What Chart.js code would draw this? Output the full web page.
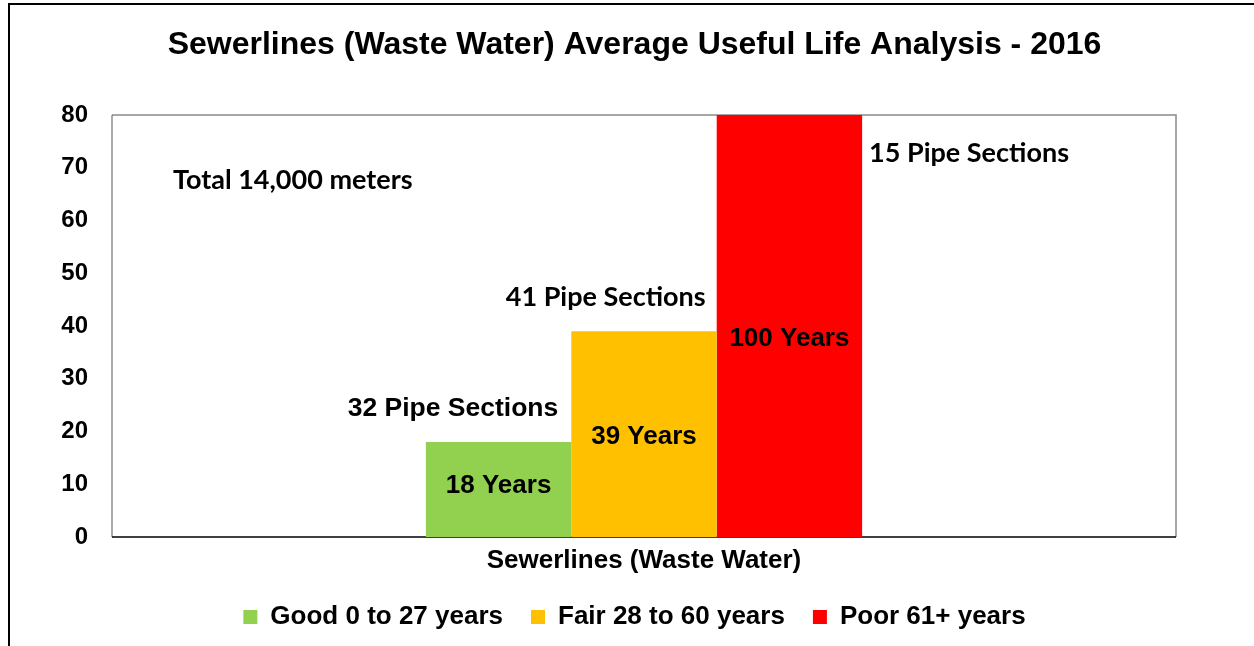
<!DOCTYPE html>
<html>
<head>
<meta charset="utf-8">
<script src="https://cdn.jsdelivr.net/npm/chart.js@4.4.1/dist/chart.umd.min.js"></script>
<style>
  html, body { margin: 0; padding: 0; background: #fff; }
  #wrap { width: 1254px; height: 646px; position: relative; }
</style>
</head>
<body>
<div id="wrap"><canvas id="chart"></canvas></div>
<script>
/* Sewerlines average useful life, 2016 */
const categories = ["Sewerlines (Waste Water)"];
const seriesNames = ["Good 0 to 27 years", "Fair 28 to 60 years", "Poor 61+ years"];
const usefulLife = [18, 39, 100];      // years, bar heights
const pipeSections = [32, 41, 15];
const totalLength = "14,000";          // meters
const yMin = 0, yMax = 80, yStep = 10;
const colors = ["#92d050", "#ffc000", "#ff0000"];

const ARIAL = "'Liberation Sans', Arial, sans-serif";
const CALIBRI = "Lato, 'Open Sans', sans-serif";

// frame around the page + plot box, and the text notes drawn on the bars
const notes = {
  id: "notes",
  beforeDraw(chart) {
    const ctx = chart.ctx;
    ctx.save();
    ctx.fillStyle = "#fff";
    ctx.fillRect(0, 0, chart.width, chart.height);
    ctx.strokeStyle = "#000"; ctx.lineWidth = 2;
    ctx.strokeRect(9, 4, chart.width + 20, chart.height + 20);
    ctx.restore();
  },
  beforeDatasetsDraw(chart) {
    const { ctx, chartArea: a } = chart;
    ctx.save();
    ctx.lineWidth = 1.5;
    ctx.strokeStyle = "#8a8a8a";
    ctx.beginPath(); ctx.moveTo(a.left, a.top); ctx.lineTo(a.right, a.top); ctx.lineTo(a.right, a.bottom); ctx.stroke();
    ctx.strokeStyle = "#595959"; ctx.lineWidth = 1;
    ctx.beginPath(); ctx.moveTo(a.left, a.top); ctx.lineTo(a.left, a.bottom); ctx.stroke();
    ctx.strokeStyle = "#000"; ctx.lineWidth = 1.5;
    ctx.beginPath(); ctx.moveTo(a.left, a.bottom); ctx.lineTo(a.right, a.bottom); ctx.stroke();
    ctx.restore();
  },
  afterDatasetsDraw(chart, args, o) {
    const { ctx, chartArea: a } = chart;
    const y = chart.scales.y;
    ctx.save();
    ctx.fillStyle = "#000";
    ctx.textBaseline = "middle";
    usefulLife.forEach((v, i) => {
      const bar = chart.getDatasetMeta(i).data[0];
      const left = bar.x - bar.width / 2, right = bar.x + bar.width / 2;
      // "NN Years" inside the bar
      ctx.font = "bold 26px " + ARIAL;
      ctx.textAlign = "center";
      ctx.fillText(v + " Years", bar.x, y.getPixelForValue(o.yearsAt[i]));
      // "NN Pipe Sections" beside the bar
      const p = o.pipes[i];
      ctx.font = p.font;
      ctx.textAlign = p.align;
      ctx.fillText(pipeSections[i] + " Pipe Sections", (p.align === "left" ? right : left + bar.width) + p.dx, y.getPixelForValue(p.at));
    });
    ctx.font = "bold 27px " + CALIBRI;
    ctx.textAlign = "left";
    ctx.fillText("Total " + totalLength + " meters", a.left + o.total.dx, y.getPixelForValue(o.total.at));
    ctx.restore();
  }
};

new Chart(document.getElementById("chart"), {
  type: "bar",
  data: {
    labels: categories,
    datasets: seriesNames.map((name, i) => ({
      label: name,
      data: [usefulLife[i]],
      backgroundColor: colors[i],
      borderWidth: 0,
      categoryPercentage: 0.41,
      barPercentage: 1
    }))
  },
  options: {
    responsive: true,
    maintainAspectRatio: false,
    animation: false,
    layout: { padding: { left: 15, right: 0, top: 0, bottom: 6 } },
    scales: {
      x: {
        grid: { display: false, drawTicks: false },
        border: { display: false },
        ticks: { color: "#000", padding: 8, font: { family: ARIAL, size: 26, weight: "bold" } },
        afterFit(s) { s.height = 39; }
      },
      y: {
        min: yMin, max: yMax,
        grid: { display: false, drawTicks: false },
        border: { display: false },
        ticks: { stepSize: yStep, color: "#000", padding: 24, font: { family: ARIAL, size: 24, weight: "bold" } },
        afterFit(s) { s.width = 97; }
      },
      y2: {
        position: "right",
        grid: { display: false, drawTicks: false },
        border: { display: false },
        ticks: { display: false },
        afterFit(s) { s.width = 78; }
      }
    },
    plugins: {
      title: {
        display: true,
        text: "Sewerlines (Waste Water) Average Useful Life Analysis - 2016",
        color: "#000",
        font: { family: ARIAL, size: 32, weight: "bold" },
        padding: { top: 26, bottom: 50.6 }
      },
      legend: {
        position: "bottom",
        maxHeight: 72,
        labels: {
          color: "#000",
          boxWidth: 14, boxHeight: 14,
          padding: 28,
          font: { family: ARIAL, size: 26, weight: "bold" }
        }
      },
      tooltip: { enabled: false },
      notes: {
        yearsAt: [9.7, 19, 37.5],
        pipes: [
          { at: 24.4, align: "right", dx: -13, font: "bold 26.5px " + ARIAL },
          { at: 45.5, align: "right", dx: -11, font: "bold 27px " + CALIBRI },
          { at: 72.8, align: "left", dx: 7, font: "bold 27px " + CALIBRI }
        ],
        total: { at: 67.7, dx: 61 }
      }
    }
  },
  plugins: [notes]
});
</script>
</body>
</html>
